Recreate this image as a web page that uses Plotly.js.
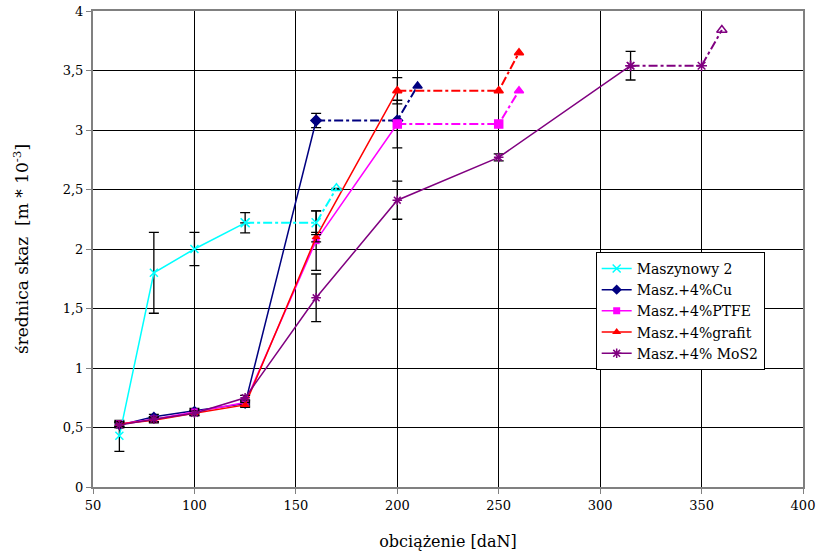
<!DOCTYPE html>
<html>
<head>
<meta charset="utf-8">
<script src="https://cdn.plot.ly/plotly-3.0.1.min.js"></script>
<style>html,body{margin:0;padding:0;background:#fff;}#chart{width:818px;height:558px;}</style>
</head>
<body>
<div id="chart"></div>
<script>
// Series names
const names = ["Maszynowy 2", "Masz.+4%Cu", "Masz.+4%PTFE", "Masz.+4%grafit", "Masz.+4% MoS2"];
const colors = ["#00FFFF", "#000080", "#FF00FF", "#FF0000", "#800080"];

// Maszynowy 2 (solid part)
const m2X = [63, 80, 100, 125];
const m2Y = [0.43, 1.80, 2.00, 2.22];
const m2E = [0.13, 0.34, 0.14, 0.085];
// Maszynowy 2 (dash-dot continuation)
const m2DX = [125, 160, 170];
const m2DY = [2.22, 2.22, 2.51];
const m2DE = [0, 0.10, 0];

// Cu
const cuX = [63, 80, 100, 125, 160];
const cuY = [0.52, 0.59, 0.64, 0.70, 3.08];
const cuE = [0.02, 0.02, 0.02, 0.02, 0.06];
const cuDX = [160, 200, 210];
const cuDY = [3.08, 3.08, 3.37];

// PTFE
const ptX = [63, 80, 100, 125, 160, 200];
const ptY = [0.53, 0.57, 0.63, 0.71, 2.07, 3.05];
const ptE = [0.02, 0.02, 0.02, 0.02, 0.25, 0.20];
const ptDX = [200, 250, 260];
const ptDY = [3.05, 3.05, 3.33];

// grafit
const grX = [63, 80, 100, 125, 160, 200];
const grY = [0.53, 0.56, 0.62, 0.69, 2.10, 3.33];
const grE = [0.02, 0.02, 0.02, 0.02, 0.04, 0.11];
const grDX = [200, 250, 260];
const grDY = [3.33, 3.33, 3.65];

// MoS2
const moX = [63, 80, 100, 125, 160, 200, 250, 315];
const moY = [0.52, 0.57, 0.62, 0.75, 1.59, 2.41, 2.77, 3.54];
const moE = [0.02, 0.02, 0.02, 0.02, 0.20, 0.16, 0.03, 0.12];
const moDX = [315, 350, 360];
const moDY = [3.54, 3.54, 3.84];

const xTicks = [0, 50, 100, 150, 200, 250, 300, 350, 400];
const yTicks = [0, 0.5, 1, 1.5, 2, 2.5, 3, 3.5, 4];

const errStyle = (arr) => ({type: 'data', array: arr, visible: true, color: '#000', thickness: 1.3, width: 5});

function solid(i, x, y, e, sym, size, open) {
  return {
    x: x, y: y, type: 'scatter', mode: 'lines+markers', name: names[i],
    line: {color: colors[i], width: 1.5},
    marker: open ? {symbol: sym, size: size, color: colors[i], line: {color: colors[i], width: 1.5}}
                 : {symbol: sym, size: size, color: colors[i]},
    error_y: errStyle(e)
  };
}
function dashed(i, x, y, syms, size, e) {
  const t = {
    x: x, y: y, type: 'scatter', mode: 'lines+markers', showlegend: false, name: names[i],
    line: {color: colors[i], width: 2, dash: 'dashdot'},
    marker: {symbol: syms, size: size, color: colors[i], line: {color: colors[i], width: 1.5}}
  };
  if (e) t.error_y = errStyle(e);
  return t;
}

const traces = [
  solid(0, m2X, m2Y, m2E, 'x-thin-open', 8, true),
  solid(1, cuX, cuY, cuE, 'diamond', 8, false),
  solid(2, ptX, ptY, ptE, 'square', 7, false),
  solid(3, grX, grY, grE, 'triangle-up', 8, false),
  solid(4, moX, moY, moE, 'asterisk-open', 8, true),
  dashed(0, m2DX, m2DY, ['x-thin-open', 'x-thin-open', 'triangle-up-open'], 9, m2DE),
  dashed(1, cuDX, cuDY, ['diamond', 'diamond', 'triangle-up'], 8),
  dashed(2, ptDX, ptDY, ['square', 'square', 'triangle-up'], 8),
  dashed(3, grDX, grDY, ['triangle-up', 'triangle-up', 'triangle-up'], 8),
  dashed(4, moDX, moDY, ['asterisk-open', 'asterisk-open', 'triangle-up-open'], 9)
];

const font = 'DejaVu Serif';
const layout = {
  width: 818, height: 558,
  margin: {l: 93, r: 15, t: 11, b: 71},
  paper_bgcolor: '#fff', plot_bgcolor: '#fff',
  separators: ',.',
  font: {family: font, size: 13, color: '#000'},
  showlegend: true,
  legend: {
    x: 0.708, y: 0.494, xanchor: 'left', yanchor: 'top',
    bgcolor: '#fff', bordercolor: '#000', borderwidth: 1,
    font: {family: font, size: 14, color: '#000'}
  },
  xaxis: {
    range: [50, 400], tickvals: xTicks, ticktext: xTicks.map(String),
    showgrid: true, gridcolor: '#000', gridwidth: 1,
    showline: true, linecolor: '#808080', linewidth: 2, mirror: true,
    ticks: 'outside', ticklen: 5, tickcolor: '#808080', zeroline: false,
    title: {text: 'obciążenie [daN]', font: {family: font, size: 16}, standoff: 24},
    tickfont: {family: font, size: 13}
  },
  yaxis: {
    range: [0, 4], tickvals: yTicks,
    showgrid: true, gridcolor: '#000', gridwidth: 1,
    showline: true, linecolor: '#808080', linewidth: 2, mirror: true,
    ticks: 'outside', ticklen: 5, tickcolor: '#808080', zeroline: false,
    title: {text: 'średnica skaz  [m * 10<sup>-3</sup>]', font: {family: font, size: 17}, standoff: 30},
    tickfont: {family: font, size: 13}
  }
};

Plotly.newPlot('chart', traces, layout, {displayModeBar: false, staticPlot: true});
</script>
</body>
</html>
